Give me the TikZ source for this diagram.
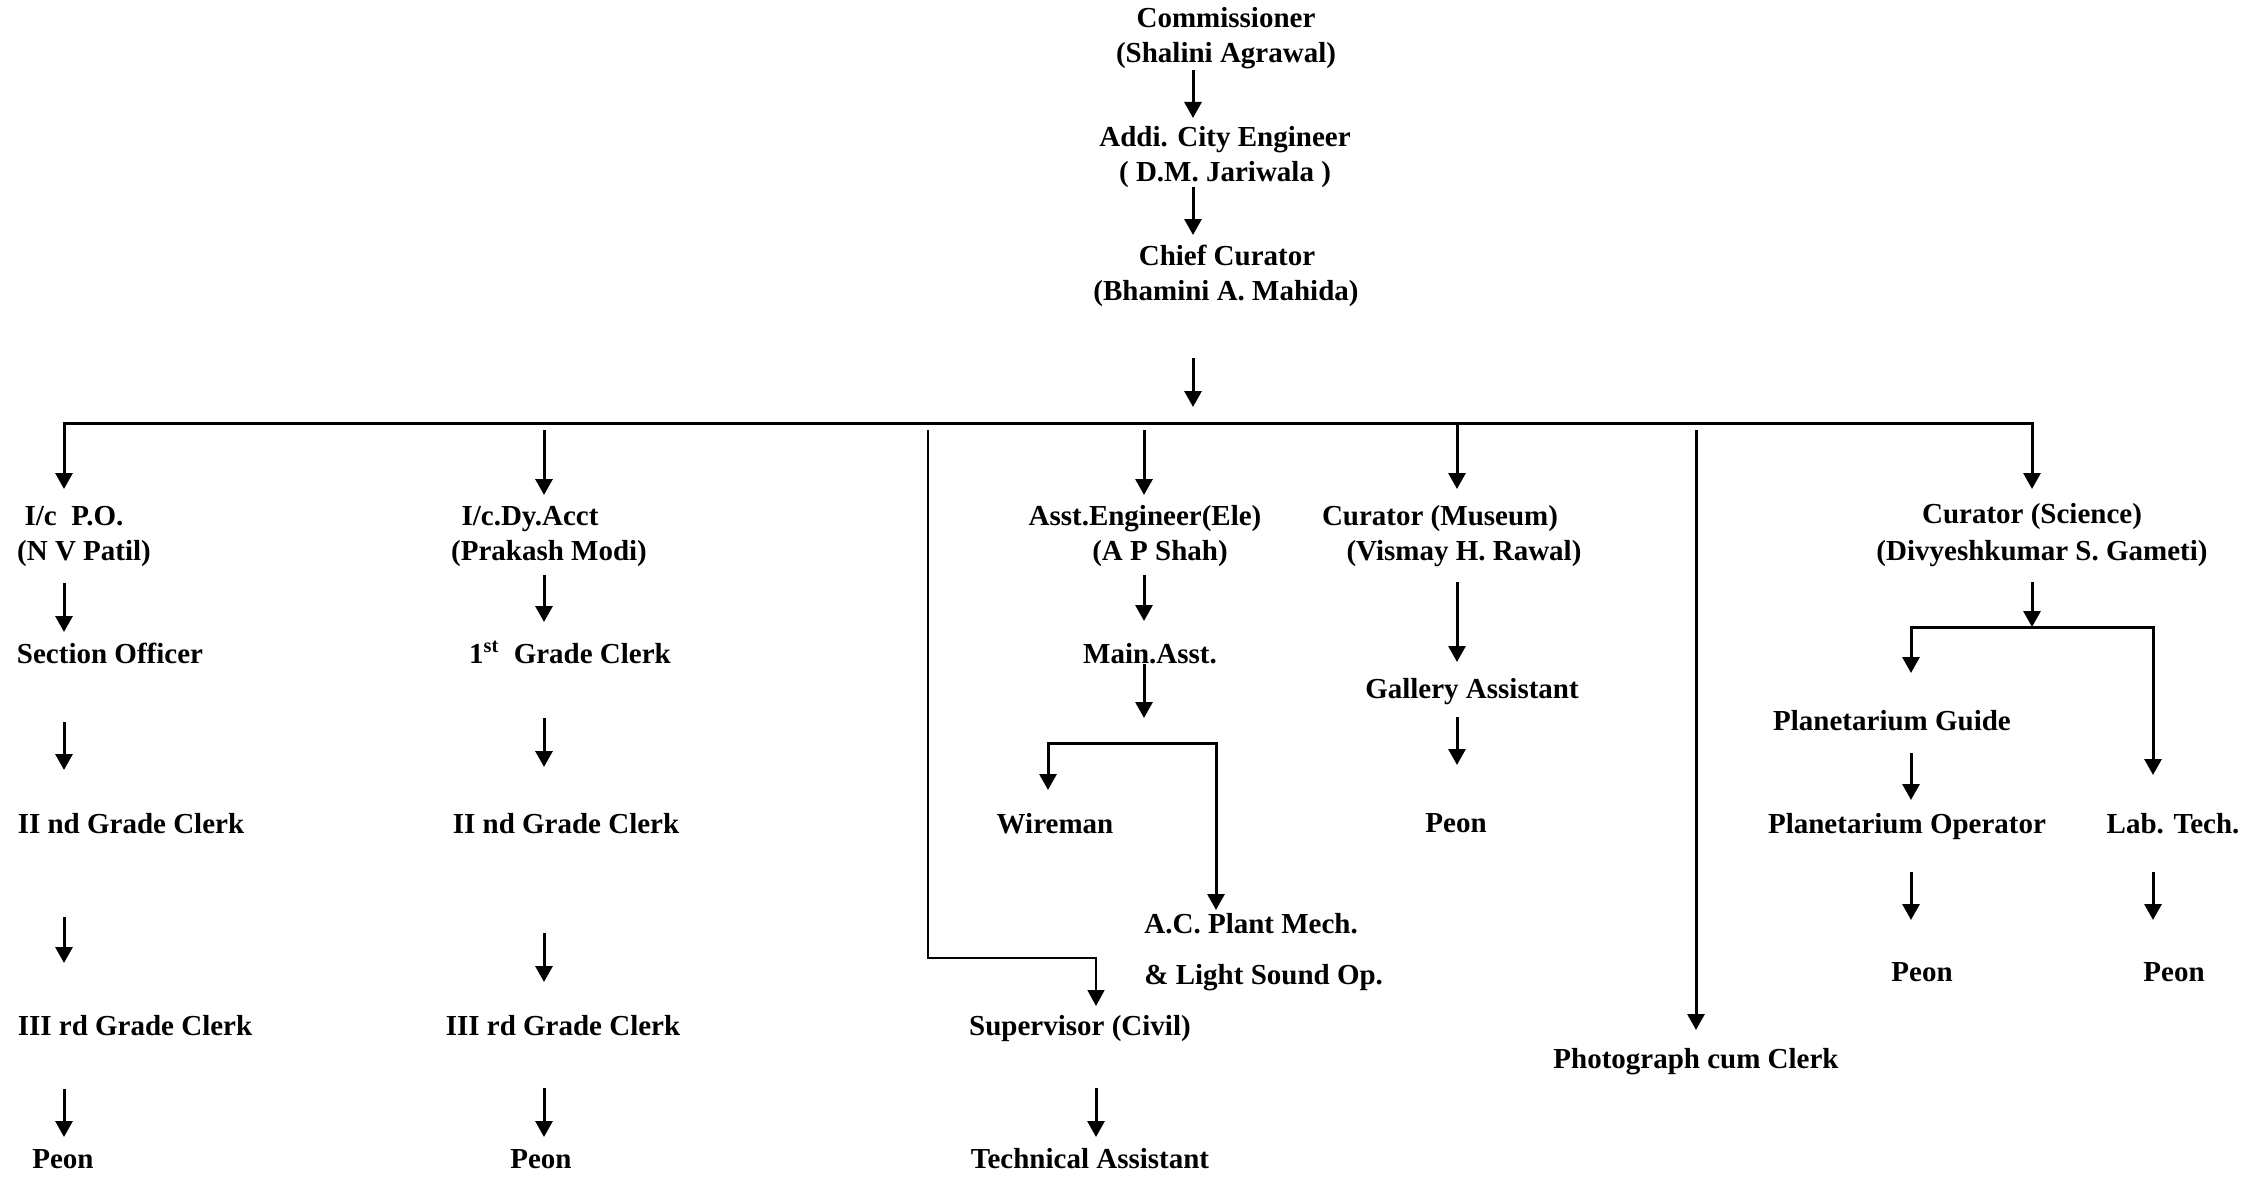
\documentclass[tikz,border=0pt]{standalone}
\usepackage{fontspec}
\setmainfont{Liberation Serif}
\usetikzlibrary{arrows.meta}
\begin{document}
\begin{tikzpicture}[x=0.5pt,y=-0.5pt,
  lbl/.style={font=\bfseries\fontsize{14.5pt}{17pt}\selectfont, inner sep=0pt, anchor=base},
  lblw/.style={lbl, anchor=base west},
  tip/.tip={Triangle[width=8.5pt,length=8pt]},
  arr/.style={line width=1.5pt, -tip},
  darr/.style={line width=1.5pt, tip-tip},
  tarr/.style={line width=0.9pt, -tip},
]
\fill[white] (0,0) rectangle (2255,1177);
\useasboundingbox (0,0) rectangle (2255,1177);

% ---- top chain
\node[lbl] (comm)  at (1226,28)  {Commissioner};
\node[lbl] (comm2) at (1226,63)  {(Shalini Agrawal)};
\node[lbl] (ace)   at (1225,147) {Addi. City Engineer};
\node[lbl] (ace2)  at (1225,182) {( D.M. Jariwala )};
\node[lbl] (cc)    at (1227,265) {Chief Curator};
\node[lbl] (cc2)   at (1226,300) {(Bhamini A. Mahida)};

\coordinate (t1s) at (1193,70);  \coordinate (t1e) at (1193,118);
\coordinate (t2s) at (1193,187); \coordinate (t2e) at (1193,235);
\coordinate (t3s) at (1193,358); \coordinate (t3e) at (1193,407);
\draw[arr] (t1s) -- (t1e);
\draw[arr] (t2s) -- (t2e);
\draw[arr] (t3s) -- (t3e);

% ---- bus
\coordinate (c1e) at (64,489);
\coordinate (c7e) at (2032,489);
\coordinate (bR) at (2032,423);
\draw[darr] (c1e) |- (bR) -- (c7e);
\coordinate (b5) at (1457,423); \coordinate (b5e) at (1457,489);
\draw[arr] (b5) -- (b5e);

% ---- column 1
\node[lbl] (po)  at (74,525)  {I/c\ \ P.O.};
\node[lbl] (po2) at (84,560)  {(N V Patil)};
\node[lbl] (so)  at (110,663) {Section Officer};
\node[lbl] (g2a) at (131,833) {II nd Grade Clerk};
\node[lbl] (g3a) at (135,1035) {III rd Grade Clerk};
\node[lbl] (pa)  at (63,1168) {Peon};
\coordinate (a11s) at (64,583);  \coordinate (a11e) at (64,632);
\coordinate (a12s) at (64,722);  \coordinate (a12e) at (64,770);
\coordinate (a13s) at (64,917);  \coordinate (a13e) at (64,963);
\coordinate (a14s) at (64,1089); \coordinate (a14e) at (64,1137);
\draw[arr] (a11s) -- (a11e);
\draw[arr] (a12s) -- (a12e);
\draw[arr] (a13s) -- (a13e);
\draw[arr] (a14s) -- (a14e);

% ---- column 2
\node[lbl] (dy)  at (530,525)  {I/c.Dy.Acct};
\node[lbl] (dy2) at (549,560)  {(Prakash Modi)};
\node[lbl] (g1b) at (570,663)  {1\textsuperscript{st}\ \ Grade Clerk};
\node[lbl] (g2b) at (566,833)  {II nd Grade Clerk};
\node[lbl] (g3b) at (563,1035) {III rd Grade Clerk};
\node[lbl] (pb)  at (541,1168) {Peon};
\coordinate (a20s) at (544,430);  \coordinate (a20e) at (544,495);
\coordinate (a21s) at (544,575);  \coordinate (a21e) at (544,622);
\coordinate (a22s) at (544,718);  \coordinate (a22e) at (544,767);
\coordinate (a23s) at (544,933);  \coordinate (a23e) at (544,982);
\coordinate (a24s) at (544,1088); \coordinate (a24e) at (544,1137);
\draw[arr] (a20s) -- (a20e);
\draw[arr] (a21s) -- (a21e);
\draw[arr] (a22s) -- (a22e);
\draw[arr] (a23s) -- (a23e);
\draw[arr] (a24s) -- (a24e);

% ---- column 3 (supervisor)
\node[lbl] (sup) at (1080,1035) {Supervisor (Civil)};
\node[lbl] (tech) at (1090,1168) {Technical Assistant};
\coordinate (a30s) at (928,430); \coordinate (a30e) at (1096,1006);
\draw[tarr] (a30s) |- (1096,958) -- (a30e);
\coordinate (a31s) at (1096,1088); \coordinate (a31e) at (1096,1137);
\draw[arr] (a31s) -- (a31e);

% ---- column 4 (electrical)
\node[lbl] (ae)  at (1145,525) {Asst.Engineer(Ele)};
\node[lbl] (ae2) at (1160,560) {(A P Shah)};
\node[lbl] (ma)  at (1150,663) {Main.Asst.};
\node[lbl] (wm)  at (1055,833) {Wireman};
\node[lblw] (acp) at (1144,933) {A.C. Plant Mech.};
\node[lblw] (lso) at (1144,984) {\& Light Sound Op.};
\coordinate (a40s) at (1144,430); \coordinate (a40e) at (1144,495);
\coordinate (a41s) at (1144,575); \coordinate (a41e) at (1144,621);
\coordinate (a42s) at (1144,664); \coordinate (a42e) at (1144,718);
\draw[arr] (a40s) -- (a40e);
\draw[arr] (a41s) -- (a41e);
\draw[arr] (a42s) -- (a42e);
\coordinate (fw) at (1048,790); \coordinate (fac) at (1216,910);
\draw[darr] (fw) |- (1216,743) -- (fac);

% ---- column 5 (museum)
\node[lbl] (cm)  at (1440,525) {Curator (Museum)};
\node[lbl] (cm2) at (1464,560) {(Vismay H. Rawal)};
\node[lbl] (ga)  at (1472,698) {Gallery Assistant};
\node[lbl] (pm)  at (1456,832) {Peon};
\coordinate (a51s) at (1457,582); \coordinate (a51e) at (1457,662);
\coordinate (a52s) at (1457,717); \coordinate (a52e) at (1457,765);
\draw[arr] (a51s) -- (a51e);
\draw[arr] (a52s) -- (a52e);

% ---- column 6 (photograph)
\node[lbl] (ph) at (1696,1068) {Photograph cum Clerk};
\coordinate (a6s) at (1696,430); \coordinate (a6e) at (1696,1030);
\draw[arr] (a6s) -- (a6e);

% ---- column 7 (science)
\node[lbl] (cs)  at (2032,523) {Curator (Science)};
\node[lbl] (cs2) at (2042,560) {(Divyeshkumar S. Gameti)};
\node[lbl] (pg)  at (1892,730) {Planetarium Guide};
\node[lbl] (po7) at (1907,833) {Planetarium Operator};
\node[lbl] (lt)  at (2173,833) {Lab. Tech.};
\node[lbl] (pp)  at (1922,981) {Peon};
\node[lbl] (pl)  at (2174,981) {Peon};
\coordinate (a70s) at (2032,582); \coordinate (a70e) at (2032,627);
\draw[arr] (a70s) -- (a70e);
\coordinate (fg) at (1911,673); \coordinate (flt) at (2153,775);
\draw[darr] (fg) |- (2153,627) -- (flt);
\coordinate (a71s) at (1911,753); \coordinate (a71e) at (1911,800);
\coordinate (a72s) at (1911,872); \coordinate (a72e) at (1911,920);
\coordinate (a73s) at (2153,872); \coordinate (a73e) at (2153,920);
\draw[arr] (a71s) -- (a71e);
\draw[arr] (a72s) -- (a72e);
\draw[arr] (a73s) -- (a73e);
\end{tikzpicture}
\end{document}
